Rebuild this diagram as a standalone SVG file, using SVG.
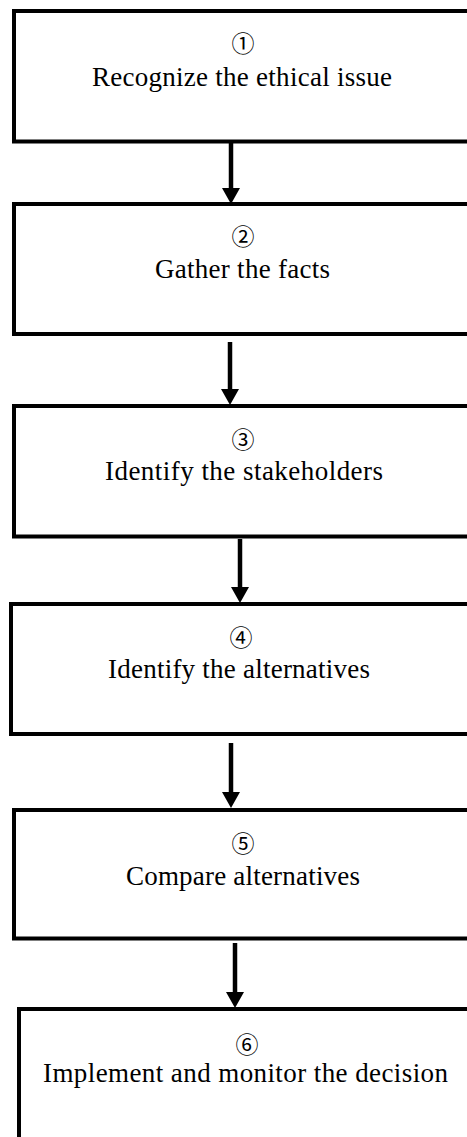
<svg xmlns="http://www.w3.org/2000/svg" width="467" height="1137" viewBox="0 0 467 1137">
<style>
.box{fill:#fff;stroke:#000;stroke-width:4}
.num{font-family:"Noto Sans CJK KR","DejaVu Sans",sans-serif;font-size:23px;fill:#000;text-anchor:middle;dominant-baseline:central}
.lbl{font-family:"Liberation Serif","Times New Roman",serif;font-size:27px;fill:#000;text-anchor:middle}
.arr{stroke:#000;stroke-width:4.5;fill:none}
</style>
<defs>
<marker id="ah" viewBox="0 0 16 18" refX="0" refY="9" markerWidth="16" markerHeight="18" markerUnits="userSpaceOnUse" orient="auto">
<path d="M0,0 L16,9 L0,18 z" fill="#000"/>
</marker>
</defs>
<rect width="467" height="1137" fill="#fff"/>
<g id="node1">
<rect class="box" x="14" y="11" width="470" height="130.5"/>
<text class="num" x="243" y="42">①</text>
<text class="lbl" x="242" y="86" textLength="300" lengthAdjust="spacing">Recognize the ethical issue</text>
</g>
<g id="node2">
<rect class="box" x="14" y="204" width="470" height="130"/>
<text class="num" x="243" y="235">②</text>
<text class="lbl" x="242.5" y="278" textLength="175" lengthAdjust="spacing">Gather the facts</text>
</g>
<g id="node3">
<rect class="box" x="14" y="406" width="470" height="130.5"/>
<text class="num" x="243" y="438">③</text>
<text class="lbl" x="244" y="480" textLength="278" lengthAdjust="spacing">Identify the stakeholders</text>
</g>
<g id="node4">
<rect class="box" x="11" y="604" width="470" height="130"/>
<text class="num" x="241" y="636">④</text>
<text class="lbl" x="239" y="678" textLength="262" lengthAdjust="spacing">Identify the alternatives</text>
</g>
<g id="node5">
<rect class="box" x="14" y="810" width="470" height="128.5"/>
<text class="num" x="243" y="842">⑤</text>
<text class="lbl" x="243" y="885" textLength="234" lengthAdjust="spacing">Compare alternatives</text>
</g>
<g id="node6">
<rect class="box" x="19" y="1009" width="470" height="160"/>
<text class="num" x="247" y="1043">⑥</text>
<text class="lbl" x="245.5" y="1082" textLength="405" lengthAdjust="spacing">Implement and monitor the decision</text>
</g>
<g id="connectors">
<line class="arr" x1="231" y1="143" x2="231" y2="188" marker-end="url(#ah)"/>
<line class="arr" x1="230" y1="342" x2="230" y2="389" marker-end="url(#ah)"/>
<line class="arr" x1="240" y1="539" x2="240" y2="587" marker-end="url(#ah)"/>
<line class="arr" x1="231" y1="743" x2="231" y2="792" marker-end="url(#ah)"/>
<line class="arr" x1="235" y1="943" x2="235" y2="992" marker-end="url(#ah)"/>
</g>
</svg>
